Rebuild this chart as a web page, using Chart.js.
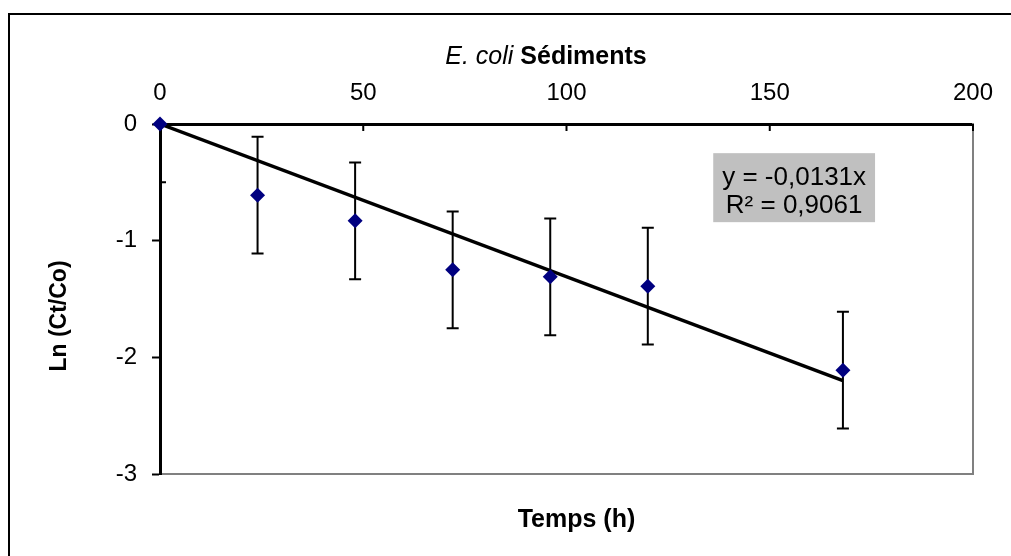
<!DOCTYPE html>
<html>
<head>
<meta charset="utf-8">
<script src="https://cdn.jsdelivr.net/npm/chart.js@4/dist/chart.umd.min.js"></script>
<style>
  html, body { margin: 0; padding: 0; background: #fff; }
  #wrap { width: 1011px; height: 556px; }
</style>
</head>
<body>
<div id="wrap"><canvas id="chart" width="1011" height="556"></canvas></div>
<script>
// data
const timeH = [0, 24, 48, 72, 96, 120, 168];
const lnRatio = [0, -0.61, -0.83, -1.25, -1.31, -1.39, -2.11];
const errBar = [0.5, 0.5, 0.5, 0.5, 0.5, 0.5, 0.5];

// linear trend (y = -0,0131x) end points
const trendX = [0, 168];
const trendY = [0, -2.2];

const xTicks = [0, 50, 100, 150, 200];
const yTicks = [-3, -2, -1, 0];

const eqLines = ['y = -0,0131x', 'R\u00b2 = 0,9061'];
const eqAnchor = { x: 156, y: -0.25 };

const FONT = '"Liberation Sans", Arial, sans-serif';

const framePlugin = {
  id: 'frame',
  beforeDraw(chart) {
    const ctx = chart.ctx;
    ctx.save();
    ctx.fillStyle = '#fff';
    ctx.fillRect(0, 0, chart.width, chart.height);
    ctx.strokeStyle = '#000';
    ctx.lineWidth = 2;
    ctx.beginPath();
    ctx.moveTo(9, chart.height + 2);
    ctx.lineTo(9, 14);
    ctx.lineTo(chart.width + 2, 14);
    ctx.stroke();
    ctx.restore();
  }
};

const errorBarPlugin = {
  id: 'errorBars',
  beforeDatasetsDraw(chart) {
    const ctx = chart.ctx, xs = chart.scales.x, ys = chart.scales.y;
    const a = chart.chartArea;
    ctx.save();
    ctx.beginPath();
    ctx.rect(a.left, a.top, a.right - a.left, a.bottom - a.top);
    ctx.clip();
    ctx.strokeStyle = '#000';
    ctx.lineWidth = 2;
    timeH.forEach((t, i) => {
      const px = xs.getPixelForValue(t);
      const hi = ys.getPixelForValue(lnRatio[i] + errBar[i]);
      const lo = ys.getPixelForValue(lnRatio[i] - errBar[i]);
      ctx.beginPath();
      ctx.moveTo(px, hi); ctx.lineTo(px, lo);
      ctx.moveTo(px - 6, hi); ctx.lineTo(px + 6, hi);
      ctx.moveTo(px - 6, lo); ctx.lineTo(px + 6, lo);
      ctx.stroke();
    });
    ctx.restore();
  }
};

const extrasPlugin = {
  id: 'extras',
  afterDraw(chart) {
    const ctx = chart.ctx, xs = chart.scales.x, ys = chart.scales.y;
    const a = chart.chartArea;
    ctx.save();

    // inward tick marks on the top axis
    ctx.strokeStyle = '#000';
    ctx.lineWidth = 2;
    xTicks.slice(1).forEach(v => {
      const px = xs.getPixelForValue(v);
      ctx.beginPath();
      ctx.moveTo(px, a.top);
      ctx.lineTo(px, a.top + 7);
      ctx.stroke();
    });

    // title: italic species + bold word (centred on the whole chart object)
    ctx.fillStyle = '#000';
    ctx.textBaseline = 'alphabetic';
    const f1 = 'italic 25px ' + FONT, f2 = 'bold 25px ' + FONT;
    ctx.font = f1;
    const w1 = ctx.measureText('E. coli ').width;
    ctx.font = f2;
    const w2 = ctx.measureText('Sédiments').width;
    let sx = 546 - (w1 + w2) / 2;
    ctx.font = f1;
    ctx.textAlign = 'left';
    ctx.fillText('E. coli ', sx, 64);
    ctx.font = f2;
    ctx.fillText('Sédiments', sx + w1, 64);

    // axis titles
    const cx = (a.left + a.right) / 2;
    ctx.font = 'bold 25px ' + FONT;
    ctx.textAlign = 'center';
    ctx.fillText('Temps (h)', cx + 10, 527);
    ctx.font = 'bold 23px ' + FONT;
    ctx.save();
    ctx.translate(66, 316);
    ctx.rotate(-Math.PI / 2);
    ctx.fillText('Ln (Ct/Co)', 0, 0);
    ctx.restore();

    // equation box
    ctx.font = '26px ' + FONT;
    const tw = Math.max(...eqLines.map(s => ctx.measureText(s).width));
    const bw = tw + 18, bh = 69;
    const bx = xs.getPixelForValue(eqAnchor.x) - bw / 2;
    const by = ys.getPixelForValue(eqAnchor.y);
    ctx.fillStyle = '#c0c0c0';
    ctx.fillRect(bx, by, bw, bh);
    ctx.fillStyle = '#000';
    ctx.textBaseline = 'middle';
    ctx.fillText(eqLines[0], bx + bw / 2, by + 25);
    ctx.fillText(eqLines[1], bx + bw / 2, by + 53);
    ctx.restore();
  }
};

new Chart(document.getElementById('chart'), {
  type: 'scatter',
  data: {
    datasets: [
      {
        type: 'line',
        label: 'trend',
        data: trendX.map((x, i) => ({ x: x, y: trendY[i] })),
        borderColor: '#000',
        borderWidth: 3.5,
        pointRadius: 0,
        fill: false,
        order: 2
      },
      {
        label: 'E. coli',
        data: timeH.map((x, i) => ({ x: x, y: lnRatio[i] })),
        pointStyle: 'rectRot',
        pointRadius: 7.5,
        backgroundColor: '#000080',
        borderColor: '#000080',
        borderWidth: 0,
        clip: false,
        order: 1
      }
    ]
  },
  options: {
    responsive: false,
    animation: false,
    devicePixelRatio: 1,
    layout: { padding: 0 },
    plugins: {
      legend: { display: false },
      tooltip: { enabled: false },
      title: { display: false }
    },
    scales: {
      x: {
        type: 'linear',
        position: 'top',
        min: 0, max: 200,
        afterBuildTicks: s => { s.ticks = xTicks.map(v => ({ value: v })); },
        afterFit: s => { s.height = 124; },
        ticks: { color: '#000', font: { family: FONT, size: 24 }, padding: 16, maxRotation: 0 },
        grid: { display: true, drawOnChartArea: false, drawTicks: false },
        border: { display: true, color: '#000', width: 3 }
      },
      x2: {
        type: 'linear',
        position: 'bottom',
        min: 0, max: 200,
        afterFit: s => { s.height = 82; },
        ticks: { display: false },
        grid: { display: false, drawTicks: false },
        border: { display: true, color: '#808080', width: 2 }
      },
      y: {
        type: 'linear',
        position: 'left',
        min: -3, max: 0,
        afterBuildTicks: s => { s.ticks = yTicks.map(v => ({ value: v })); },
        afterFit: s => { s.width = 160; },
        ticks: { color: '#000', font: { family: FONT, size: 24 }, padding: 15 },
        grid: { display: true, drawOnChartArea: false, drawTicks: true, tickLength: 8, tickColor: '#000', tickWidth: 2 },
        border: { display: true, color: '#000', width: 3 }
      },
      y2: {
        type: 'linear',
        position: 'right',
        min: -3, max: 0,
        afterFit: s => { s.width = 38; },
        ticks: { display: false },
        grid: { display: false, drawTicks: false },
        border: { display: true, color: '#808080', width: 2 }
      }
    }
  },
  plugins: [framePlugin, errorBarPlugin, extrasPlugin]
});
</script>
</body>
</html>
